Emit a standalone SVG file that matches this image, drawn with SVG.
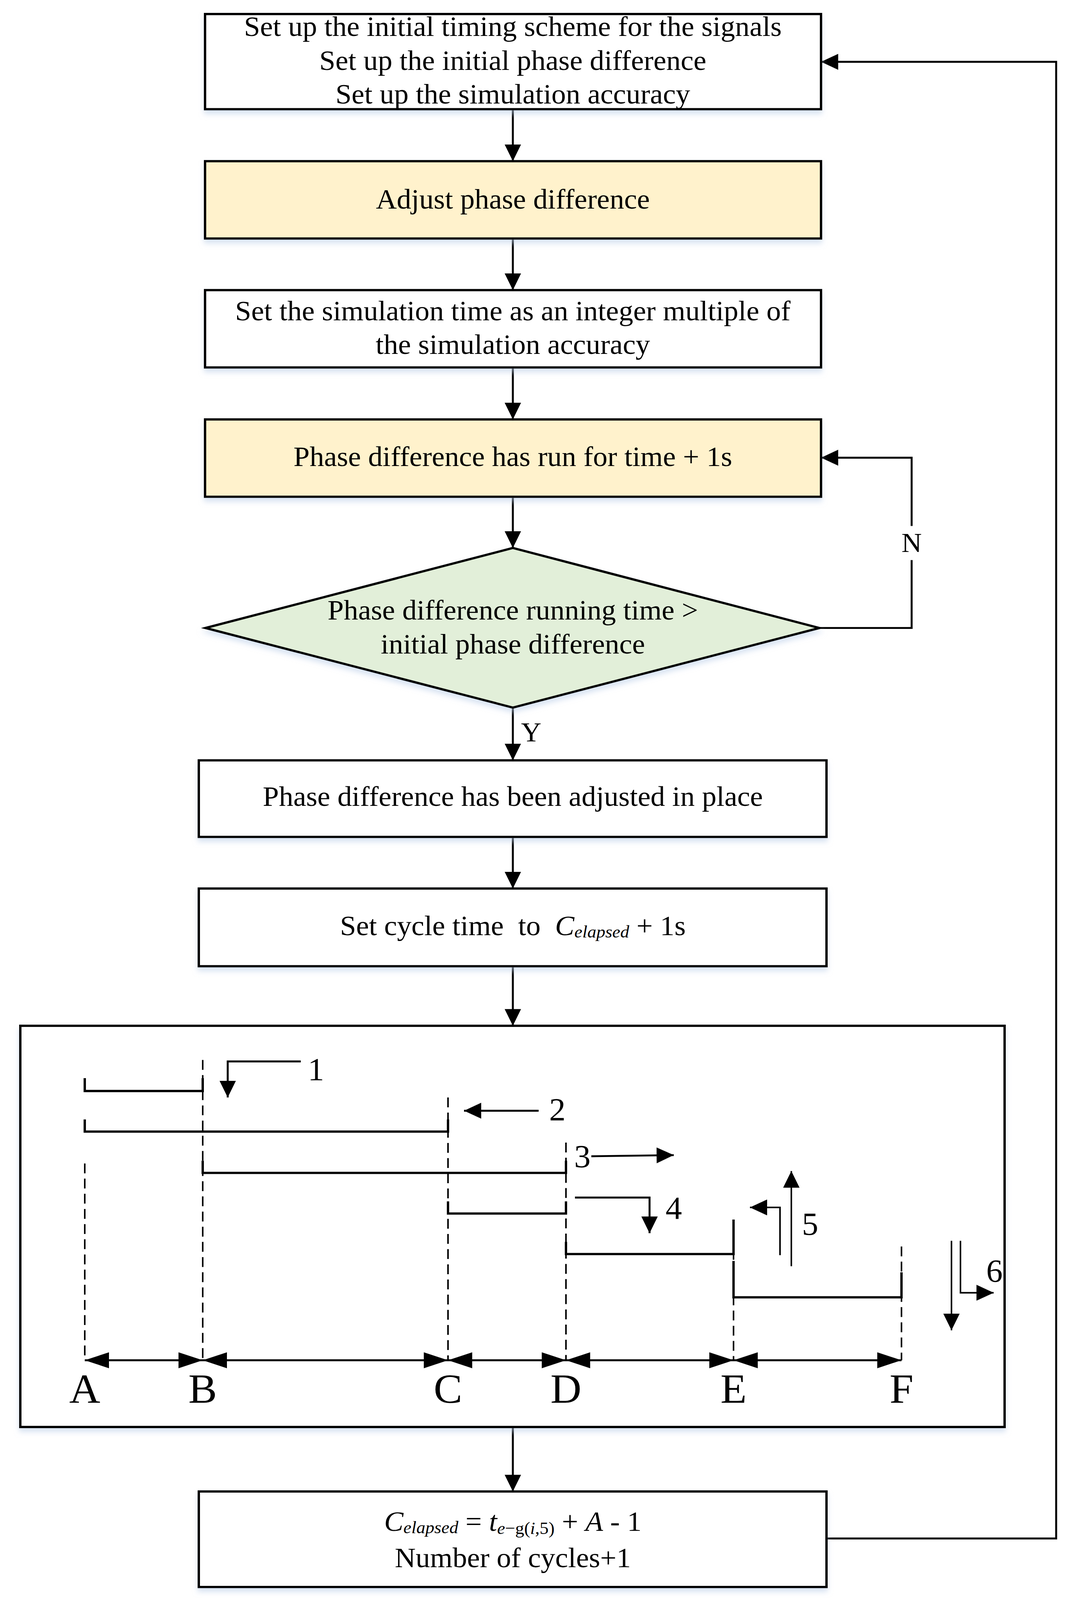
<svg xmlns="http://www.w3.org/2000/svg" width="2742" height="4218" viewBox="0 0 2742 4218">
<style>
text{font-family:"Liberation Serif","Times New Roman",serif;fill:#000}
.t{font-size:74px;text-anchor:middle}
.lab{font-size:110px;text-anchor:middle}
.num{font-size:84px}
.yn{font-size:72px}
.box{stroke:#000;stroke-width:6;filter:url(#sh)}
.w{fill:#fff}
.yel{fill:#fff2cc}
.grn{fill:#e2efd9}
.c{fill:none;stroke:#000;stroke-width:5}
.ca{fill:none;stroke:#000;stroke-width:5;marker-end:url(#ah)}
.br{fill:none;stroke:#000;stroke-width:6}
.dash{fill:none;stroke:#000;stroke-width:4;stroke-dasharray:26 14}
.sa{fill:none;stroke:#000;stroke-width:5;marker-end:url(#sm)}
.dim{fill:none;stroke:#000;stroke-width:5;marker-start:url(#dm);marker-end:url(#dm)}
</style>
<defs>
<filter id="sh" x="-3%" y="-5%" width="106%" height="125%">
<feDropShadow dx="0" dy="10" stdDeviation="7" flood-color="#b9cde8" flood-opacity="0.55"/>
</filter>
<marker id="ah" markerUnits="userSpaceOnUse" markerWidth="44" markerHeight="42" refX="44" refY="21" orient="auto">
<path d="M0,0 L44,21 L0,42 z" fill="#000"/>
</marker>
<marker id="sm" markerUnits="userSpaceOnUse" markerWidth="44" markerHeight="42" refX="44" refY="21" orient="auto">
<path d="M0,0 L44,21 L0,42 z" fill="#000"/>
</marker>
<marker id="dm" markerUnits="userSpaceOnUse" markerWidth="62" markerHeight="42" refX="62" refY="21" orient="auto-start-reverse">
<path d="M0,0 L62,21 L0,42 z" fill="#000"/>
</marker>
</defs>
<rect width="2742" height="4218" fill="#fff"/>

<g transform="scale(1,0.9708)">
<g id="connectors">
<line class="ca" x1="1313" y1="288" x2="1313" y2="425"/>
<line class="ca" x1="1313" y1="629" x2="1313" y2="765"/>
<line class="ca" x1="1313" y1="969" x2="1313" y2="1106"/>
<line class="ca" x1="1313" y1="1310" x2="1313" y2="1445"/>
<line class="ca" x1="1313" y1="1866" x2="1313" y2="2005"/>
<text class="yn" x="1334" y="1955">Y</text>
<polyline class="c" points="2098,1656 2334,1656 2334,1477"/>
<polyline class="ca" points="2334,1387 2334,1207 2102,1207"/>
<text class="yn" x="2334" y="1455" text-anchor="middle">N</text>
<line class="ca" x1="1313" y1="2207" x2="1313" y2="2343"/>
<line class="ca" x1="1313" y1="2548" x2="1313" y2="2705"/>
<line class="ca" x1="1313" y1="3763" x2="1313" y2="3933"/>
<polyline class="ca" points="2116,4057 2704,4057 2704,163 2102,163"/>
</g>

<g id="n1">
<rect class="box w" x="525" y="37" width="1577" height="251"/>
<text class="t" x="1313" y="95">Set up the initial timing scheme for the signals</text>
<text class="t" x="1313" y="184">Set up the initial phase difference</text>
<text class="t" x="1313" y="273">Set up the simulation accuracy</text>
</g>
<g id="n2">
<rect class="box yel" x="525" y="425" width="1577" height="204"/>
<text class="t" x="1313" y="550">Adjust phase difference</text>
</g>
<g id="n3">
<rect class="box w" x="525" y="765" width="1577" height="204"/>
<text class="t" x="1313" y="845">Set the simulation time as an integer multiple of</text>
<text class="t" x="1313" y="933">the simulation accuracy</text>
</g>
<g id="n4">
<rect class="box yel" x="525" y="1106" width="1577" height="204"/>
<text class="t" x="1313" y="1229">Phase difference has run for time + 1s</text>
</g>
<g id="n5">
<polygon class="box grn" points="526,1656 1313,1445 2098,1656 1313,1866"/>
<text class="t" x="1313" y="1634">Phase difference running time &gt;</text>
<text class="t" x="1313" y="1723">initial phase difference</text>
</g>
<g id="n6">
<rect class="box w" x="509" y="2005" width="1607" height="202"/>
<text class="t" x="1313" y="2125">Phase difference has been adjusted in place</text>
</g>
<g id="n7">
<rect class="box w" x="509" y="2343" width="1607" height="205"/>
<text class="t" x="1313" y="2466">Set cycle time&#160; to&#160; <tspan font-style="italic">C</tspan><tspan font-style="italic" font-size="46" dy="6">elapsed</tspan><tspan dy="-6"> + 1s</tspan></text>
</g>

<g id="n8">
<rect class="box w" x="52" y="2705" width="2520" height="1058"/>
<line class="dash" x1="217" y1="3068" x2="217" y2="3587"/>
<line class="dash" x1="519" y1="2795" x2="519" y2="3587"/>
<line class="dash" x1="1147" y1="2894" x2="1147" y2="3587"/>
<line class="dash" x1="1449" y1="3013" x2="1449" y2="3587"/>
<line class="dash" x1="1878" y1="3216" x2="1878" y2="3587"/>
<line class="dash" x1="2308" y1="3287" x2="2308" y2="3587"/>
<polyline class="br" points="217,2843 217,2877 519,2877 519,2843"/>
<polyline class="br" points="217,2952 217,2984 1147,2984 1147,2952"/>
<polyline class="br" points="519,3061 519,3093 1449,3093 1449,3061"/>
<polyline class="br" points="1147,3168 1147,3200 1449,3200 1449,3168"/>
<polyline class="br" points="1449,3275 1449,3307 1878,3307 1878,3216"/>
<polyline class="br" points="1878,3325 1878,3421 2308,3421 2308,3355"/>
<polyline class="sa" points="770,2799 583,2799 583,2894"/>
<text class="num" x="788" y="2848">1</text>
<line class="sa" x1="1379" y1="2929" x2="1188" y2="2929"/>
<text class="num" x="1406" y="2954">2</text>
<text class="num" x="1470" y="3078">3</text>
<line class="sa" x1="1514" y1="3049" x2="1725" y2="3046"/>
<polyline class="sa" points="1472,3158 1663,3158 1663,3252"/>
<text class="num" x="1704" y="3214">4</text>
<line class="sa" x1="2026" y1="3339" x2="2026" y2="3088" style="stroke-width:4"/>
<polyline class="sa" points="1997,3310 1997,3184 1920,3184" style="stroke-width:4"/>
<text class="num" x="2053" y="3256">5</text>
<line class="sa" x1="2436" y1="3272" x2="2436" y2="3508" style="stroke-width:4"/>
<polyline class="sa" points="2459,3272 2459,3409 2544,3409" style="stroke-width:4"/>
<text class="num" x="2525" y="3380">6</text>
<line class="dim" x1="217" y1="3587" x2="519" y2="3587"/>
<line class="dim" x1="519" y1="3587" x2="1147" y2="3587"/>
<line class="dim" x1="1147" y1="3587" x2="1449" y2="3587"/>
<line class="dim" x1="1449" y1="3587" x2="1878" y2="3587"/>
<line class="dim" x1="1878" y1="3587" x2="2308" y2="3587"/>
<text class="lab" x="217" y="3699">A</text>
<text class="lab" x="519" y="3699">B</text>
<text class="lab" x="1147" y="3699">C</text>
<text class="lab" x="1449" y="3699">D</text>
<text class="lab" x="1878" y="3699">E</text>
<text class="lab" x="2308" y="3699">F</text>
</g>

<g id="n9">
<rect class="box w" x="509" y="3933" width="1607" height="252"/>
<text class="t" x="1313" y="4037"><tspan font-style="italic">C</tspan><tspan font-style="italic" font-size="46" dy="6">elapsed</tspan><tspan dy="-6"> = </tspan><tspan font-style="italic">t</tspan><tspan font-size="46" dy="8"><tspan font-style="italic">e</tspan>−g(<tspan font-style="italic">i</tspan>,5)</tspan><tspan dy="-8"> + </tspan><tspan font-style="italic">A</tspan> - 1</text>
<text class="t" x="1313" y="4133">Number of cycles+1</text>
</g>
</g>
</svg>
